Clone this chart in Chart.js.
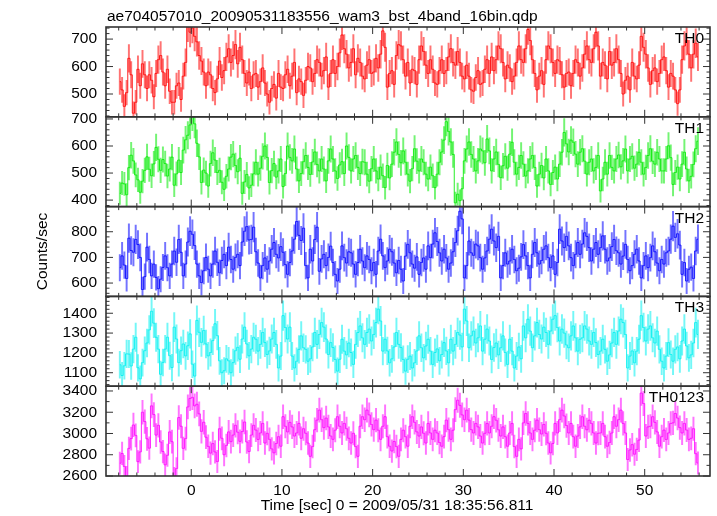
<!DOCTYPE html>
<html><head><meta charset="utf-8">
<script src="https://cdn.jsdelivr.net/npm/chart.js@4.4.1/dist/chart.umd.min.js"></script>
<style>html,body{margin:0;padding:0;background:#fff;}#wrap{position:relative;width:717px;height:516px;}canvas{display:block;}</style>
</head><body><div id="wrap"><canvas id="c" width="717" height="516"></canvas></div>
<script>
const TITLE = 'ae704057010_20090531183556_wam3_bst_4band_16bin.qdp';
const X_TITLE = 'Time [sec] 0 = 2009/05/31 18:35:56.811';
const Y_TITLE = 'Counts/sec';
const PANEL_NAMES = ['TH0', 'TH1', 'TH2', 'TH3', 'TH0123'];
const BIN_START = -8, BIN_WIDTH = 0.25;

const TH0 = [545,515,455,505,630,570,430,470,590,530,610,570,520,570,550,490,575,625,640,580,
  530,590,510,470,470,530,540,480,565,615,745,725,740,710,690,640,620,580,530,580,
  570,520,505,555,620,560,585,635,665,615,640,680,610,670,625,575,540,580,520,570,
  575,525,545,595,540,500,470,520,535,485,575,525,520,570,590,530,565,615,505,555,
  545,495,550,600,595,545,575,625,615,565,585,635,525,575,625,575,600,650,715,665,
  645,595,615,665,570,630,615,565,555,605,625,575,580,630,595,645,730,670,525,575,
  585,535,640,680,675,625,565,615,540,590,585,535,625,675,655,605,575,625,590,540,
  535,585,625,575,585,635,665,615,605,655,615,565,555,605,565,515,510,560,585,535,
  540,590,625,575,635,585,625,675,665,615,555,605,595,545,565,615,675,625,615,665,
  735,695,625,575,515,565,585,535,625,675,665,615,575,625,620,570,525,575,580,530,
  575,625,615,565,595,645,675,625,615,665,725,675,565,615,605,555,655,605,615,665,
  625,575,500,550,565,515,615,565,555,605,710,670,645,595,535,585,595,545,575,625,
  635,585,525,575,565,515,465,515,625,675,695,645,595,645,685,635];
const TH1 = [425,463,460,420,520,566,545,493,475,429,470,510,560,514,490,534,595,551,510,550,
  535,489,515,559,455,497,548,502,585,623,640,678,710,682,610,560,465,511,500,452,
  535,575,548,502,510,466,440,488,515,559,570,528,505,555,425,467,495,445,455,497,
  540,496,518,562,600,558,465,509,535,485,508,552,450,498,600,558,545,589,515,471,
  498,542,565,521,495,541,578,532,508,552,515,471,545,589,552,508,480,530,542,498,
  600,558,508,552,565,521,498,542,540,496,470,516,552,508,478,522,490,446,528,482,
  533,577,615,569,538,582,540,496,470,516,590,544,508,552,540,496,478,522,490,446,
  496,540,578,622,690,654,615,569,390,422,398,442,545,589,615,569,552,508,545,589,
  582,538,626,582,508,552,578,532,483,527,562,518,570,614,540,496,521,565,533,489,
  508,552,565,521,452,496,528,482,552,508,458,502,522,478,533,577,650,608,578,622,
  614,570,533,577,590,544,496,540,552,508,521,565,434,478,540,496,565,521,508,552,
  567,523,545,589,508,552,562,518,533,577,540,496,521,565,590,544,533,577,552,508,
  508,552,601,557,458,502,522,478,533,577,515,471,488,532,590,618];
const TH2 = [660,706,670,618,775,727,720,770,750,700,575,625,740,692,628,674,622,578,615,661,
  706,660,628,674,725,681,770,720,628,674,760,802,790,746,674,628,602,648,700,654,
  628,674,725,681,640,688,712,668,740,692,654,700,712,668,760,802,820,768,770,818,
  722,678,620,668,698,654,686,732,758,712,698,742,720,672,634,680,725,771,840,786,
  766,814,668,620,732,686,770,818,646,694,712,668,700,744,680,634,608,654,745,699,
  678,722,718,674,634,680,732,686,660,706,692,648,680,634,725,771,706,660,686,732,
  722,678,640,688,654,608,705,751,718,674,658,702,634,680,698,654,745,699,752,796,
  762,718,686,732,698,654,678,722,758,804,880,850,620,668,764,718,708,752,745,699,
  654,698,725,771,810,764,738,782,620,668,718,674,686,732,692,648,658,702,750,706,
  668,620,712,758,718,674,688,732,745,699,660,706,634,680,810,764,738,782,745,699,
  668,712,758,712,752,796,782,738,686,732,758,712,738,784,732,686,698,742,770,726,
  718,674,705,751,692,648,668,712,732,686,620,668,706,660,699,745,722,678,648,692,
  674,718,725,771,822,778,792,748,634,680,608,654,662,618,725,771];
const TH3 = [1140,1086,1135,1195,1194,1134,1219,1279,1125,1069,1151,1211,1250,1316,1410,1350,1279,1219,1092,1152,
  1219,1279,1186,1126,1330,1270,1151,1211,1245,1185,1236,1296,1143,1083,1364,1304,1253,1313,1245,1185,
  1202,1262,1347,1287,1160,1100,1110,1170,1160,1100,1151,1211,1228,1168,1270,1330,1245,1185,1219,1279,
  1269,1209,1243,1303,1252,1192,1210,1270,1303,1243,1124,1184,1388,1328,1270,1330,1184,1124,1158,1218,
  1286,1226,1218,1158,1170,1230,1303,1243,1293,1353,1330,1270,1192,1252,1227,1167,1108,1168,1269,1209,
  1190,1250,1202,1142,1243,1303,1336,1276,1243,1303,1320,1260,1293,1353,1421,1361,1209,1269,1210,1150,
  1170,1230,1303,1243,1227,1167,1108,1168,1184,1124,1150,1210,1286,1226,1175,1235,1269,1209,1142,1202,
  1220,1160,1192,1252,1210,1150,1269,1209,1243,1303,1290,1230,1421,1361,1226,1286,1310,1250,1276,1336,
  1209,1269,1320,1260,1167,1227,1250,1190,1226,1286,1202,1142,1269,1209,1124,1184,1230,1170,1336,1276,
  1370,1310,1226,1286,1353,1293,1270,1330,1303,1243,1310,1370,1388,1328,1260,1320,1300,1240,1226,1286,
  1336,1276,1209,1269,1276,1336,1320,1260,1243,1303,1252,1192,1209,1269,1218,1158,1190,1250,1303,1243,
  1310,1370,1353,1293,1124,1184,1210,1150,1209,1269,1388,1328,1260,1320,1336,1276,1250,1310,1218,1158,
  1124,1184,1252,1192,1158,1218,1230,1170,1260,1320,1235,1175,1190,1250,1353,1293];
const TH0123 = [2720,2812,2690,2590,2860,2952,3080,2982,2735,2827,3200,3112,2950,2862,3260,3178,2985,3077,2920,2830,
  2705,2795,3015,2923,2580,2670,3150,3068,2860,2952,3250,3330,3340,3260,3275,3185,3020,3106,2965,2879,
  2815,2905,2826,2736,3045,2955,2800,2888,3015,2923,2985,3077,3012,2926,3018,3108,2920,2830,2985,3077,
  3032,2944,3005,3095,2910,3002,2945,2855,2818,2906,2970,2880,3158,3068,3015,3105,3062,2976,3005,3095,
  2955,3045,3002,2910,2785,2877,3036,3126,3220,3130,3055,3145,3062,2976,2945,3031,3158,3068,3005,3095,
  3045,2955,2910,3002,2877,2785,3068,3158,3130,3220,3175,3085,3036,3126,3031,2945,3068,3158,2970,2880,
  2835,2925,2877,2785,2945,3031,2970,2880,3068,3158,3105,3015,2976,3062,3002,2910,3095,3005,2945,3031,
  3005,2915,2880,2970,3126,3036,2945,3031,3225,3313,3265,3175,3130,3220,3126,3036,3005,3095,3062,2976,
  2910,3002,3095,3005,3068,3158,3125,3035,2976,3062,2970,2880,3005,3095,2877,2785,2945,2855,3100,3188,
  3095,3005,2945,3031,3126,3036,2995,3085,3002,2910,2818,2906,3095,3005,3130,3220,3165,3075,3005,3095,
  2970,2880,2976,3062,3158,3068,3035,3125,3095,3005,2910,3002,3005,3095,2970,2880,2915,3005,3158,3068,
  3130,3220,3095,3005,2755,2845,2895,2805,2850,2938,3380,3282,2976,3062,3068,3158,3105,3015,2880,2970,
  3032,2944,3005,3095,3100,3188,3145,3055,3005,3095,3032,2944,2955,3045,2810,2722];

const SERIES = [TH0, TH1, TH2, TH3, TH0123];
const X_TICKS = [0, 10, 20, 30, 40, 50];
const X_MINOR_STEP = 2;
const Y_TICKS = [[500,600,700],[400,500,600,700],[600,700,800],[1100,1200,1300,1400],[2600,2800,3000,3200,3400]];
const Y_MINOR_STEP = [20, 20, 20, 20, 100];
const Y_MIN = [417, 376, 548, 1032, 2600];
const Y_MAX = [744, 708, 898, 1485, 3445];
const X_MIN = -9.4, X_MAX = 57.2;

const COLORS = ['255,0,0', '0,235,0', '0,0,255', '0,240,240', '255,0,255'];
const FONT = '"Liberation Sans", Arial, Helvetica, sans-serif';
const FONT_SIZE = 15.5;

const TIME = TH0.map((_, i) => BIN_START + BIN_WIDTH * (i + 0.5));
const err = v => Math.sqrt(v / BIN_WIDTH);

const datasets = [];
SERIES.forEach((vals, k) => {
  const yid = 'y' + k;
  datasets.push({
    type: 'bar', xAxisID: 'x', yAxisID: yid,
    data: vals.map((v, i) => ({x: TIME[i], y: [v - err(v), v + err(v)]})),
    backgroundColor: `rgba(${COLORS[k]},0.55)`, borderWidth: 0,
    barThickness: 1.3, grouped: false, clip: 0
  });
  datasets.push({
    type: 'line', xAxisID: 'x', yAxisID: yid,
    data: vals.map((v, i) => ({x: TIME[i], y: v})),
    borderColor: `rgba(${COLORS[k]},0.85)`, borderWidth: 1,
    stepped: 'middle', pointRadius: 0, fill: false, clip: 0
  });
});

const scales = {
  x: {
    type: 'linear', position: 'bottom', min: X_MIN, max: X_MAX, offset: false,
    grid: {display: false, drawTicks: false, offset: false}, border: {display: false},
    ticks: {font: {family: FONT, size: FONT_SIZE}, color: '#000', padding: 5, maxRotation: 0, autoSkip: false, callback: v => String(v)},
    afterBuildTicks: s => { s.ticks = X_TICKS.map(v => ({value: v})); },
    afterFit: s => { s.height = 40; }
  }
};
SERIES.forEach((_, k) => {
  scales['y' + k] = {
    type: 'linear', position: 'left', stack: 'panels', stackWeight: 1, weight: 4 - k,
    min: Y_MIN[k], max: Y_MAX[k], beginAtZero: false,
    grid: {display: false, drawTicks: false}, border: {display: false},
    ticks: {font: {family: FONT, size: FONT_SIZE}, color: '#000', padding: 9, autoSkip: false, callback: v => String(v)},
    afterBuildTicks: s => { s.ticks = Y_TICKS[k].map(v => ({value: v})); },
    afterFit: s => { s.width = 106; }
  };
});

const qdpFrame = {
  id: 'qdpFrame',
  afterDatasetsDraw(chart) {
    const ctx = chart.ctx;
    const xs = chart.scales.x;
    const L = chart.chartArea.left, R = chart.chartArea.right;
    const line = (x1, y1, x2, y2) => { ctx.beginPath(); ctx.moveTo(x1, y1); ctx.lineTo(x2, y2); ctx.stroke(); };
    ctx.save();
    ctx.strokeStyle = '#333';
    SERIES.forEach((_, k) => {
      const ys = chart.scales['y' + k];
      const T = ys.top, B = ys.bottom;
      ctx.lineWidth = 1;
      Y_TICKS[k].forEach(v => { const p = ys.getPixelForValue(v); line(L, p, L + 7, p); line(R, p, R - 7, p); });
      const ms = Y_MINOR_STEP[k];
      for (let v = Math.ceil(ys.min / ms) * ms; v <= ys.max; v += ms) {
        if (Y_TICKS[k].includes(v)) continue;
        const p = ys.getPixelForValue(v); line(L, p, L + 3.5, p); line(R, p, R - 3.5, p);
      }
      for (let v = Math.ceil(xs.min / X_MINOR_STEP) * X_MINOR_STEP; v <= xs.max; v += X_MINOR_STEP) {
        const p = xs.getPixelForValue(v);
        const len = X_TICKS.includes(v) ? 7 : 3.5;
        line(p, T, p, T + len); line(p, B, p, B - len);
      }
      ctx.lineWidth = 1.6;
      ctx.strokeRect(L, T, R - L, B - T);
    });
    ctx.fillStyle = '#000';
    ctx.font = `${FONT_SIZE}px ${FONT}`;
    ctx.textAlign = 'right'; ctx.textBaseline = 'alphabetic';
    SERIES.forEach((_, k) => {
      const ys = chart.scales['y' + k];
      ctx.fillText(PANEL_NAMES[k], R - 6, ys.top + 16);
    });
    ctx.restore();
  },
  afterDraw(chart) {
    const ctx = chart.ctx;
    ctx.save();
    ctx.fillStyle = '#000';
    ctx.font = `${FONT_SIZE}px ${FONT}`;
    ctx.textAlign = 'left'; ctx.textBaseline = 'alphabetic';
    ctx.fillText(TITLE, 107, 21);
    ctx.textAlign = 'center'; ctx.textBaseline = 'middle';
    ctx.fillText(X_TITLE, 397, 506);
    ctx.translate(43, 251.5); ctx.rotate(-Math.PI / 2);
    ctx.fillText(Y_TITLE, 0, 0);
    ctx.restore();
  }
};

new Chart(document.getElementById('c'), {
  type: 'line',
  data: {datasets},
  options: {
    responsive: false, animation: false, devicePixelRatio: 1,
    layout: {padding: {left: 0, top: 27, right: 7, bottom: 0}},
    plugins: {legend: {display: false}, tooltip: {enabled: false}, title: {display: false}},
    scales
  },
  plugins: [qdpFrame]
});
</script></body></html>
